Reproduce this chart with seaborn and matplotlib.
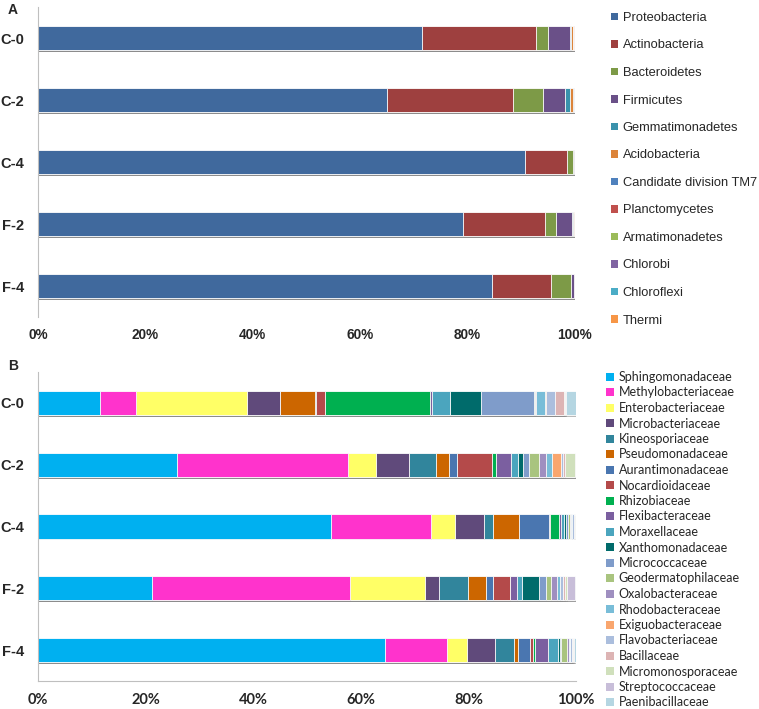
import numpy as np
import pandas as pd
import seaborn as sns
import matplotlib.pyplot as plt
import matplotlib.patheffects as pe
from matplotlib.patches import Patch

sns.set_style('white')
plt.rcParams['font.family'] = ['Liberation Sans', 'DejaVu Sans']

samples = ['C-0', 'C-2', 'C-4', 'F-2', 'F-4']

# Panel A: relative abundance of phyla (%)
phyla = ['Proteobacteria', 'Actinobacteria', 'Bacteroidetes', 'Firmicutes',
         'Gemmatimonadetes', 'Acidobacteria', 'Candidate division TM7',
         'Planctomycetes', 'Armatimonadetes', 'Chlorobi', 'Chloroflexi', 'Thermi']
phyla_c0 = [71.6, 21.2, 2.4, 4.1, 0.1, 0.3, 0.1, 0.1, 0.05, 0.05, 0.05, 0.1]
phyla_c2 = [65.2, 23.4, 5.7, 4.0, 0.9, 0.7, 0.05, 0.05, 0.05, 0.05, 0.05, 0.05]
phyla_c4 = [90.7, 7.9, 1.0, 0.2, 0.05, 0.05, 0.02, 0.02, 0.02, 0.02, 0.02, 0.02]
phyla_f2 = [79.2, 15.2, 2.2, 3.0, 0.1, 0.2, 0.05, 0.05, 0.02, 0.02, 0.02, 0.02]
phyla_f4 = [84.5, 11.1, 3.7, 0.5, 0.05, 0.05, 0.02, 0.02, 0.02, 0.02, 0.02, 0.02]
phyla_colors = ['#40699D', '#9E403F', '#7D9A47', '#6A5088', '#3A92AC', '#DC843A',
                '#4F81BD', '#C0504D', '#9BBB59', '#8064A2', '#4BACC6', '#F79646']

# Panel B: relative abundance of families (%)
families = ['Sphingomonadaceae', 'Methylobacteriaceae', 'Enterobacteriaceae',
            'Microbacteriaceae', 'Kineosporiaceae', 'Pseudomonadaceae',
            'Aurantimonadaceae', 'Nocardioidaceae', 'Rhizobiaceae',
            'Flexibacteraceae', 'Moraxellaceae', 'Xanthomonadaceae',
            'Micrococcaceae', 'Geodermatophilaceae', 'Oxalobacteraceae',
            'Rhodobacteraceae', 'Exiguobacteraceae', 'Flavobacteriaceae',
            'Bacillaceae', 'Micromonosporaceae', 'Streptococcaceae', 'Paenibacillaceae']
fam_c0 = [11.5, 6.7, 20.6, 6.1, 0.0, 6.4, 0.3, 1.7, 19.5, 0.2, 3.5, 5.6,
          9.9, 0.2, 0.2, 1.7, 0.2, 1.6, 1.7, 0.2, 0.1, 1.9]
fam_c2 = [25.9, 31.8, 5.2, 6.0, 5.0, 2.5, 1.5, 6.5, 0.7, 2.9, 1.3, 0.8,
          1.2, 1.9, 1.2, 1.1, 1.8, 0.3, 0.4, 1.8, 0.1, 0.1]
fam_c4 = [54.7, 18.6, 4.5, 5.4, 1.6, 4.8, 5.7, 0.2, 1.7, 0.3, 0.5, 0.4,
          0.4, 0.3, 0.2, 0.2, 0.1, 0.3, 0.1, 0.1, 0.1, 0.1]
fam_f2 = [21.2, 36.9, 14.0, 2.5, 5.4, 3.4, 1.4, 3.1, 0.1, 1.2, 1.0, 3.1,
          1.3, 0.9, 1.2, 0.5, 0.1, 0.4, 0.5, 0.4, 1.5, 0.1]
fam_f4 = [64.8, 11.6, 3.9, 5.1, 3.7, 0.6, 2.3, 0.6, 0.4, 2.4, 1.9, 0.3,
          0.2, 1.2, 0.2, 0.2, 0.1, 0.3, 0.1, 0.2, 0.2, 0.3]
family_colors = ['#00B0F0', '#FF33CC', '#FFFF66', '#604A7B', '#31859C', '#CC6600',
                 '#4A76B0', '#B44A4A', '#00B050', '#7B5FA0', '#4BA5BE', '#006B6B',
                 '#7F9CCA', '#A9C47F', '#9F8FC0', '#79BDD8', '#F9A66E', '#ABBEDD',
                 '#DDB4B4', '#D0E0BC', '#C8BED9', '#B5D6E2']

def stacked(ax, rows, cols, colors):
    df = pd.DataFrame(rows, index=samples, columns=cols)
    df = df.div(df.sum(axis=1), axis=0) * 100
    cum = df.cumsum(axis=1)
    shadow = [pe.SimplePatchShadow(offset=(0.6, -1.3), shadow_rgbFace='#8C8C8C', alpha=0.6),
              pe.Normal()]
    for col, c in reversed(list(zip(cols, colors))):
        sns.barplot(x=cum[col].values, y=samples, orient='h', color=c, saturation=1,
                    width=0.39, edgecolor='white', linewidth=0.6, ax=ax,
                    path_effects=shadow)
    ax.set_xlim(0, 100)
    ax.set_ylim(4.5, -0.5)
    ax.set_xlabel('')
    ax.set_ylabel('')
    ax.set_xticks(range(0, 101, 20))
    ax.set_xticklabels([f'{v}%' for v in range(0, 101, 20)])
    for lab in ax.get_yticklabels():
        lab.set_fontweight('bold')
        lab.set_fontsize(10.5)
    ax.tick_params(axis='both', which='major', length=0)
    ax.tick_params(axis='y', pad=10)
    sns.despine(ax=ax, top=True, right=True)
    ax.spines['left'].set_color('#BFBFBF')
    ax.spines['bottom'].set_color('#BFBFBF')

fig = plt.figure(figsize=(7.59, 7.09), dpi=100)
W, H = 759, 709
axA = fig.add_axes([38 / W, 1 - 317 / H, 537 / W, 310 / H])
axB = fig.add_axes([38 / W, 1 - 681 / H, 538 / W, 309 / H])

stacked(axA, [phyla_c0, phyla_c2, phyla_c4, phyla_f2, phyla_f4], phyla, phyla_colors)
stacked(axB, [fam_c0, fam_c2, fam_c4, fam_f2, fam_f4], families, family_colors)

# panel A: boundary ticks on y axis, no bottom spine
axA.spines['bottom'].set_visible(False)
axA.set_yticks(np.arange(-0.5, 5, 1), minor=True)
axA.tick_params(axis='y', which='minor', length=7, color='#A6A6A6', width=0.8)
for lab in axA.get_xticklabels():
    lab.set_fontweight('bold')
    lab.set_fontsize(9.8)
axA.tick_params(axis='x', pad=8)

for lab in axB.get_xticklabels():
    lab.set_family(['Lato', 'DejaVu Sans'])
    lab.set_fontweight('bold')
    lab.set_fontsize(10.5)
axB.tick_params(axis='x', pad=9)

fig.text(8 / W, 1 - 10 / H, 'A', fontsize=10, fontweight='bold', va='center')
fig.text(8 / W, 1 - 366 / H, 'B', fontsize=10, fontweight='bold', va='center')

hA = [Patch(facecolor=c, edgecolor='none') for c in phyla_colors]
fig.legend(hA, phyla, loc='upper left', bbox_to_anchor=(611 / W, 1 - 12 / H),
           frameon=False, fontsize=9.3, handlelength=0.55, handleheight=0.55,
           handletextpad=0.35, labelspacing=1.2, borderpad=0, borderaxespad=0)

hB = [Patch(facecolor=c, edgecolor='none') for c in family_colors]
fig.legend(hB, families, loc='upper left', bbox_to_anchor=(606 / W, 1 - 371 / H),
           frameon=False, prop={'family': ['Lato', 'DejaVu Sans'], 'size': 9.0},
           handlelength=0.6, handleheight=0.6, handletextpad=0.4,
           labelspacing=0.28, borderpad=0, borderaxespad=0)

fig.savefig('out.png', dpi=100)
